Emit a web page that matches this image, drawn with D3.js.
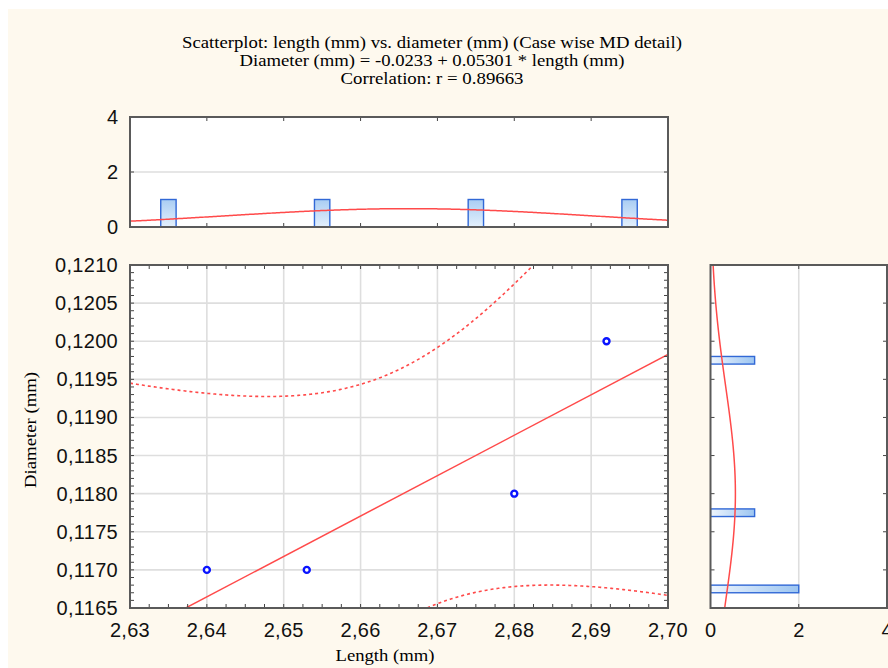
<!DOCTYPE html>
<html><head><meta charset="utf-8">
<script src="https://cdn.jsdelivr.net/npm/d3@7"></script>
<style>
html,body{margin:0;padding:0;background:#fff;}
svg{display:block;}
</style></head>
<body>
<script>
// ---- data ----
const lengthMm = [2.640, 2.653, 2.680, 2.692];
const diameterMm = [0.1170, 0.1170, 0.1180, 0.1200];
const regIntercept = -0.0233, regSlope = 0.05301;
const titleLines = ["Scatterplot: length (mm) vs. diameter (mm) (Case wise MD detail)",
  "Diameter (mm) = -0.0233 + 0.05301 * length (mm)",
  "Correlation: r = 0.89663"];
const topBinCenters = [2.635, 2.655, 2.675, 2.695];
const topBinCounts = [1, 1, 1, 1];
const topBinWidth = 0.002;
const rightBinCenters = [0.11975, 0.11775, 0.11675];
const rightBinCounts = [1, 1, 2];
const rightBinWidth = 0.0001;
const xTicks = [2.63, 2.64, 2.65, 2.66, 2.67, 2.68, 2.69, 2.70];
const yTicks = [0.1165, 0.1170, 0.1175, 0.1180, 0.1185, 0.1190, 0.1195, 0.1200, 0.1205, 0.1210];
const countTicks = [0, 2, 4];
const tCrit = 4.303; // t(0.975, df=2)

(function () {
// ---- setup ----
const W = 888, H = 668;
const svg = d3.select("body").append("svg").attr("width", W).attr("height", H);
svg.append("rect").attr("x", 8).attr("y", 9).attr("width", W - 8).attr("height", H - 9).attr("fill", "#fef9ee");

const loc = d3.formatLocale({decimal: ",", thousands: ".", grouping: [3], currency: ["", ""]});
const fx = loc.format(".2f"), fy = loc.format(".4f");

const x = d3.scaleLinear().domain([2.63, 2.70]).range([130, 668]);
const y = d3.scaleLinear().domain([0.1165, 0.1210]).range([608, 265]);
const yTop = d3.scaleLinear().domain([0, 4]).range([227, 117]);
const xRight = d3.scaleLinear().domain([0, 4]).range([710.5, 887]);

const defs = svg.append("defs");
const gv = defs.append("linearGradient").attr("id", "gv").attr("x1", 0).attr("y1", 0).attr("x2", 0).attr("y2", 1);
gv.append("stop").attr("offset", "0%").attr("stop-color", "#a9cdf3");
gv.append("stop").attr("offset", "100%").attr("stop-color", "#e4f0fc");
const gh = defs.append("linearGradient").attr("id", "gh").attr("x1", 0).attr("y1", 0).attr("x2", 1).attr("y2", 0);
gh.append("stop").attr("offset", "0%").attr("stop-color", "#eef5fd");
gh.append("stop").attr("offset", "100%").attr("stop-color", "#9cc5f1");
defs.append("clipPath").attr("id", "clipMain").append("rect").attr("x", 130).attr("y", 265).attr("width", 538).attr("height", 343);
defs.append("clipPath").attr("id", "clipTop").append("rect").attr("x", 130).attr("y", 117).attr("width", 538).attr("height", 110);
defs.append("clipPath").attr("id", "clipRight").append("rect").attr("x", 710.5).attr("y", 265).attr("width", 176.5).attr("height", 343);

const gridColor = "#dedede", borderColor = "#5a5a5a", tickColor = "#444";
const sansFont = "'Liberation Sans', Arial, sans-serif", serifFont = "'Liberation Serif', 'Times New Roman', serif";
const tickFs = 20, tickLs = 0.3, serifFs = 16.5;
const titleWidths = [500, 385, 183];

// ---- title ----
svg.append("g").selectAll("text").data(titleLines).join("text")
  .attr("x", 432).attr("y", (d, i) => 48 + i * 18).attr("text-anchor", "middle")
  .attr("textLength", (d, i) => titleWidths[i]).attr("lengthAdjust", "spacingAndGlyphs")
  .attr("font-family", serifFont).attr("font-size", serifFs).attr("fill", "#000").text(d => d);

// stats
const n = lengthMm.length;
const mx = d3.mean(lengthMm), my = d3.mean(diameterMm);
const sx = d3.deviation(lengthMm), sy = d3.deviation(diameterMm);
const Sxx = d3.sum(lengthMm, v => (v - mx) ** 2);
const sse = d3.sum(lengthMm, (v, i) => (diameterMm[i] - (regIntercept + regSlope * v)) ** 2);
const se = Math.sqrt(sse / (n - 2));
const pdf = (v, m, s) => Math.exp(-0.5 * ((v - m) / s) ** 2) / (s * Math.sqrt(2 * Math.PI));

// ---- main plot ----
const main = svg.append("g");
main.append("rect").attr("x", 130).attr("y", 265).attr("width", 538).attr("height", 343).attr("fill", "#fff");
main.append("g").selectAll("line").data(xTicks.slice(1, -1)).join("line")
  .attr("x1", d => x(d)).attr("x2", d => x(d)).attr("y1", 265).attr("y2", 608)
  .attr("stroke", gridColor).attr("stroke-width", 1.6);
main.append("g").selectAll("line").data(yTicks.slice(1, -1)).join("line")
  .attr("y1", d => y(d)).attr("y2", d => y(d)).attr("x1", 130).attr("x2", 668)
  .attr("stroke", gridColor).attr("stroke-width", 1.6);

const plotG = main.append("g").attr("clip-path", "url(#clipMain)");
const xs = d3.range(0, 401).map(i => 2.63 + i * 0.07 / 400);
const yhat = v => regIntercept + regSlope * v;
const half = v => tCrit * se * Math.sqrt(1 / n + (v - mx) ** 2 / Sxx);
const lineGen = d3.line().x(d => x(d[0])).y(d => y(d[1]));
plotG.append("path").attr("d", lineGen([[2.63, yhat(2.63)], [2.70, yhat(2.70)]]))
  .attr("fill", "none").attr("stroke", "#ff4a4a").attr("stroke-width", 1.5);
plotG.append("path").attr("d", lineGen(xs.map(v => [v, yhat(v) + half(v)])))
  .attr("fill", "none").attr("stroke", "#ff4a4a").attr("stroke-width", 1.6).attr("stroke-dasharray", "3,3");
plotG.append("path").attr("d", lineGen(xs.map(v => [v, yhat(v) - half(v)])))
  .attr("fill", "none").attr("stroke", "#ff4a4a").attr("stroke-width", 1.6).attr("stroke-dasharray", "3,3");
plotG.append("g").selectAll("circle").data(lengthMm).join("circle")
  .attr("cx", d => x(d)).attr("cy", (d, i) => y(diameterMm[i])).attr("r", 3)
  .attr("fill", "#fff").attr("stroke", "#0a14ff").attr("stroke-width", 2.4);

// main ticks (inward)
const xMinor = d3.range(0, 29).map(i => 2.63 + i * 0.0025);
const yMinor = d3.range(0, 46).map(i => 0.1165 + i * 0.0001);
main.append("g").selectAll("line").data(xMinor).join("line")
  .attr("x1", d => x(d)).attr("x2", d => x(d)).attr("y1", 608).attr("y2", 604).attr("stroke", tickColor);
main.append("g").selectAll("line").data(xMinor).join("line")
  .attr("x1", d => x(d)).attr("x2", d => x(d)).attr("y1", 265).attr("y2", 269).attr("stroke", tickColor);
main.append("g").selectAll("line").data(yMinor).join("line")
  .attr("y1", d => y(d)).attr("y2", d => y(d)).attr("x1", 130).attr("x2", 134).attr("stroke", tickColor);
main.append("g").selectAll("line").data(yMinor).join("line")
  .attr("y1", d => y(d)).attr("y2", d => y(d)).attr("x1", 668).attr("x2", 664).attr("stroke", tickColor);
main.append("rect").attr("x", 130).attr("y", 265).attr("width", 538).attr("height", 343)
  .attr("fill", "none").attr("stroke", borderColor).attr("stroke-width", 2);

main.append("g").selectAll("text").data(xTicks).join("text")
  .attr("x", d => x(d)).attr("y", 637).attr("text-anchor", "middle").attr("letter-spacing", tickLs)
  .attr("font-family", sansFont).attr("font-size", tickFs).attr("fill", "#111").text(d => fx(d));
main.append("g").selectAll("text").data(yTicks).join("text")
  .attr("x", 118).attr("y", d => y(d) + 7).attr("text-anchor", "end").attr("letter-spacing", tickLs)
  .attr("font-family", sansFont).attr("font-size", tickFs).attr("fill", "#111").text(d => fy(d));
svg.append("text").attr("x", 385).attr("y", 661).attr("text-anchor", "middle")
  .attr("textLength", 99).attr("lengthAdjust", "spacingAndGlyphs")
  .attr("font-family", serifFont).attr("font-size", 17).attr("fill", "#000").text("Length (mm)");
svg.append("text").attr("transform", "translate(36,430) rotate(-90)").attr("text-anchor", "middle")
  .attr("textLength", 116).attr("lengthAdjust", "spacingAndGlyphs")
  .attr("font-family", serifFont).attr("font-size", 17).attr("fill", "#000").text("Diameter (mm)");

// ---- top histogram ----
const topH = svg.append("g");
topH.append("rect").attr("x", 130).attr("y", 117).attr("width", 538).attr("height", 110).attr("fill", "#fff");
topH.append("line").attr("x1", 130).attr("x2", 668).attr("y1", yTop(2)).attr("y2", yTop(2)).attr("stroke", gridColor).attr("stroke-width", 1.6);
const topG = topH.append("g").attr("clip-path", "url(#clipTop)");
topG.selectAll("rect").data(topBinCenters).join("rect")
  .attr("x", d => x(d - topBinWidth / 2)).attr("width", d => x(d + topBinWidth / 2) - x(d - topBinWidth / 2))
  .attr("y", (d, i) => yTop(topBinCounts[i])).attr("height", (d, i) => yTop(0) - yTop(topBinCounts[i]))
  .attr("fill", "url(#gv)").attr("stroke", "#3168d6").attr("stroke-width", 1.4);
const topCurveW = 0.01;
topG.append("path").attr("d", d3.line().x(d => x(d)).y(d => yTop(n * topCurveW * pdf(d, mx, sx)))(xs))
  .attr("fill", "none").attr("stroke", "#ff4a4a").attr("stroke-width", 1.5);
topH.append("g").selectAll("line").data(xTicks.slice(1, -1)).join("line")
  .attr("x1", d => x(d)).attr("x2", d => x(d)).attr("y1", 117).attr("y2", 121).attr("stroke", tickColor);
topH.append("g").selectAll("line").data(xTicks.slice(1, -1)).join("line")
  .attr("x1", d => x(d)).attr("x2", d => x(d)).attr("y1", 227).attr("y2", 223).attr("stroke", tickColor);
topH.append("line").attr("x1", 668).attr("x2", 664).attr("y1", yTop(2)).attr("y2", yTop(2)).attr("stroke", tickColor);
topH.append("line").attr("x1", 130).attr("x2", 134).attr("y1", yTop(2)).attr("y2", yTop(2)).attr("stroke", tickColor);
topH.append("rect").attr("x", 130).attr("y", 117).attr("width", 538).attr("height", 110)
  .attr("fill", "none").attr("stroke", borderColor).attr("stroke-width", 2);
topH.append("g").selectAll("text").data(countTicks).join("text")
  .attr("x", 118).attr("y", d => yTop(d) + 7).attr("text-anchor", "end")
  .attr("font-family", sansFont).attr("font-size", tickFs).attr("fill", "#111").text(d => d);

// ---- right histogram ----
const rightH = svg.append("g");
rightH.append("rect").attr("x", 710.5).attr("y", 265).attr("width", 176.5).attr("height", 343).attr("fill", "#fff");
rightH.append("line").attr("x1", xRight(2)).attr("x2", xRight(2)).attr("y1", 265).attr("y2", 608).attr("stroke", gridColor).attr("stroke-width", 1.6);
const rightG = rightH.append("g").attr("clip-path", "url(#clipRight)");
rightG.selectAll("rect").data(rightBinCenters).join("rect")
  .attr("y", d => y(d + rightBinWidth / 2)).attr("height", d => y(d - rightBinWidth / 2) - y(d + rightBinWidth / 2))
  .attr("x", xRight(0)).attr("width", (d, i) => xRight(rightBinCounts[i]) - xRight(0))
  .attr("fill", "url(#gh)").attr("stroke", "#3168d6").attr("stroke-width", 1.4);
const ys = d3.range(0, 401).map(i => 0.1165 + i * 0.0045 / 400);
const rightCurveW = 0.0005;
rightG.append("path").attr("d", d3.line().y(d => y(d)).x(d => xRight(n * rightCurveW * pdf(d, my, sy)))(ys))
  .attr("fill", "none").attr("stroke", "#ff4a4a").attr("stroke-width", 1.5);
rightH.append("g").selectAll("line").data(yTicks.slice(1, -1)).join("line")
  .attr("y1", d => y(d)).attr("y2", d => y(d)).attr("x1", 710.5).attr("x2", 714.5).attr("stroke", tickColor);
rightH.append("g").selectAll("line").data(yTicks.slice(1, -1)).join("line")
  .attr("y1", d => y(d)).attr("y2", d => y(d)).attr("x1", 887).attr("x2", 883).attr("stroke", tickColor);
rightH.append("line").attr("x1", xRight(2)).attr("x2", xRight(2)).attr("y1", 265).attr("y2", 269).attr("stroke", tickColor);
rightH.append("line").attr("x1", xRight(2)).attr("x2", xRight(2)).attr("y1", 608).attr("y2", 604).attr("stroke", tickColor);
rightH.append("rect").attr("x", 710.5).attr("y", 265).attr("width", 176.5).attr("height", 343)
  .attr("fill", "none").attr("stroke", borderColor).attr("stroke-width", 2);
rightH.append("g").selectAll("text").data(countTicks).join("text")
  .attr("x", d => xRight(d)).attr("y", 637).attr("text-anchor", "middle")
  .attr("font-family", sansFont).attr("font-size", tickFs).attr("fill", "#111").text(d => d);
})();
</script>
</body></html>
